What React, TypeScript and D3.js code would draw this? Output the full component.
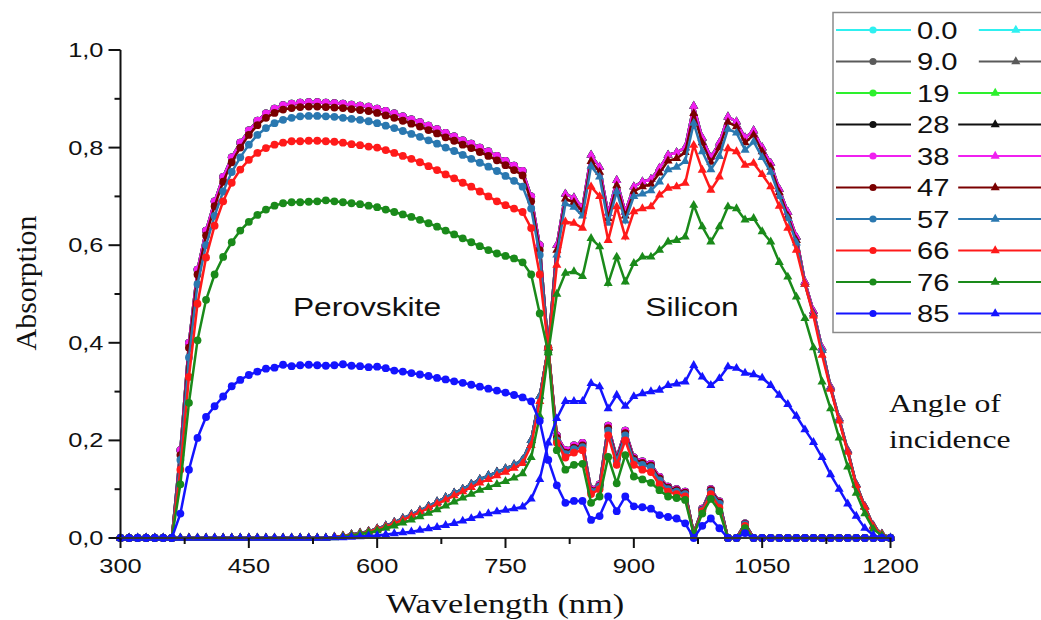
import * as d3 from "d3";

// wavelength grid, nm (10 nm steps)
const wavelengths = d3.range(300, 1201, 10);
const angleLabels = ["0.0", "9.0", "19", "28", "38", "47", "57", "66", "76", "85"];
const colors = ["#2ff0f0", "#5a5a5a", "#2df02d", "#111111", "#f020f0", "#7a0000", "#2a78b0", "#ff1a1a", "#1a8a1a", "#1414ff"];
const yTicks = [0, 0.2, 0.4, 0.6, 0.8, 1.0];
const yMinor = [0.1, 0.3, 0.5, 0.7, 0.9];
const xTicks = [300, 450, 600, 750, 900, 1050, 1200];
const xMinor = [375, 525, 675, 825, 975, 1125];

// perovskite absorption (circles), rows = 300-390, 400-490, ... 1100-1190, 1200
const perovTop = [
  0, 0, 0, 0, 0, 0, 0, 0.18, 0.40, 0.55,
  0.63, 0.69, 0.74, 0.78, 0.81, 0.835, 0.855, 0.87, 0.88, 0.887,
  0.89, 0.892, 0.893, 0.893, 0.892, 0.891, 0.89, 0.888, 0.886, 0.884,
  0.88, 0.875, 0.87, 0.864, 0.858, 0.852, 0.845, 0.838, 0.83, 0.823,
  0.815, 0.808, 0.80, 0.792, 0.783, 0.773, 0.763, 0.752, 0.70, 0.60,
  0.39, 0.21, 0.18, 0.19, 0.195, 0.10, 0.11, 0.23, 0.165, 0.22,
  0.165, 0.157, 0.152, 0.125, 0.105, 0.10, 0.095, 0.01, 0.06, 0.10,
  0.075, 0, 0, 0.03, 0, 0, 0, 0, 0, 0,
  0, 0, 0, 0, 0, 0, 0, 0, 0, 0,
  0,
];
const perov47 = [
  0, 0, 0, 0, 0, 0, 0, 0.17, 0.39, 0.54,
  0.62, 0.68, 0.73, 0.77, 0.80, 0.826, 0.846, 0.861, 0.871, 0.878,
  0.881, 0.883, 0.884, 0.884, 0.883, 0.882, 0.881, 0.879, 0.877, 0.875,
  0.871, 0.866, 0.861, 0.855, 0.849, 0.843, 0.836, 0.829, 0.821, 0.814,
  0.806, 0.799, 0.791, 0.783, 0.774, 0.764, 0.754, 0.743, 0.69, 0.59,
  0.39, 0.205, 0.175, 0.185, 0.19, 0.097, 0.107, 0.225, 0.162, 0.215,
  0.162, 0.154, 0.149, 0.122, 0.103, 0.098, 0.093, 0.01, 0.058, 0.098,
  0.073, 0, 0, 0.029, 0, 0, 0, 0, 0, 0,
  0, 0, 0, 0, 0, 0, 0, 0, 0, 0,
  0,
];
const perov57 = [
  0, 0, 0, 0, 0, 0, 0, 0.16, 0.37, 0.52,
  0.60, 0.66, 0.71, 0.75, 0.78, 0.806, 0.826, 0.84, 0.85, 0.857,
  0.861, 0.864, 0.865, 0.865, 0.864, 0.863, 0.861, 0.859, 0.857, 0.854,
  0.85, 0.845, 0.84, 0.834, 0.828, 0.822, 0.815, 0.808, 0.80, 0.793,
  0.785, 0.777, 0.769, 0.761, 0.752, 0.742, 0.732, 0.72, 0.675, 0.58,
  0.39, 0.20, 0.172, 0.182, 0.186, 0.095, 0.105, 0.22, 0.158, 0.21,
  0.158, 0.15, 0.145, 0.118, 0.10, 0.095, 0.09, 0.009, 0.057, 0.095,
  0.07, 0, 0, 0.028, 0, 0, 0, 0, 0, 0,
  0, 0, 0, 0, 0, 0, 0, 0, 0, 0,
  0,
];
const perov66 = [
  0, 0, 0, 0, 0, 0, 0, 0.14, 0.33, 0.48,
  0.575, 0.64, 0.69, 0.728, 0.755, 0.775, 0.789, 0.799, 0.806, 0.81,
  0.813, 0.813, 0.814, 0.814, 0.813, 0.812, 0.81, 0.807, 0.805, 0.802,
  0.80, 0.795, 0.789, 0.783, 0.777, 0.77, 0.762, 0.754, 0.745, 0.737,
  0.728, 0.72, 0.71, 0.70, 0.69, 0.682, 0.675, 0.668, 0.635, 0.54,
  0.39, 0.195, 0.165, 0.175, 0.18, 0.09, 0.10, 0.21, 0.15, 0.20,
  0.15, 0.14, 0.135, 0.11, 0.095, 0.09, 0.085, 0.008, 0.055, 0.09,
  0.062, 0, 0, 0.025, 0, 0, 0, 0, 0, 0,
  0, 0, 0, 0, 0, 0, 0, 0, 0, 0,
  0,
];
const perov76 = [
  0, 0, 0, 0, 0, 0, 0, 0.11, 0.277, 0.405,
  0.488, 0.54, 0.576, 0.606, 0.63, 0.648, 0.662, 0.673, 0.681, 0.686,
  0.688, 0.688, 0.689, 0.69, 0.692, 0.69, 0.688, 0.686, 0.684, 0.681,
  0.678, 0.673, 0.668, 0.663, 0.658, 0.652, 0.645, 0.638, 0.63, 0.622,
  0.614, 0.606, 0.598, 0.59, 0.583, 0.578, 0.573, 0.565, 0.54, 0.46,
  0.38, 0.18, 0.14, 0.15, 0.152, 0.072, 0.085, 0.166, 0.112, 0.17,
  0.126, 0.12, 0.113, 0.098, 0.085, 0.082, 0.078, 0.007, 0.05, 0.08,
  0.055, 0, 0, 0.02, 0, 0, 0, 0, 0, 0,
  0, 0, 0, 0, 0, 0, 0, 0, 0, 0,
  0,
];
const perov85 = [
  0, 0, 0, 0, 0, 0, 0, 0.05, 0.14, 0.205,
  0.248, 0.27, 0.29, 0.311, 0.324, 0.334, 0.341, 0.347, 0.349, 0.355,
  0.352, 0.354, 0.355, 0.354, 0.353, 0.354, 0.356, 0.353, 0.352, 0.35,
  0.351, 0.348, 0.343, 0.341, 0.338, 0.335, 0.332, 0.328, 0.325, 0.321,
  0.318, 0.314, 0.31, 0.306, 0.302, 0.298, 0.293, 0.288, 0.28, 0.24,
  0.16, 0.108, 0.072, 0.076, 0.076, 0.037, 0.045, 0.085, 0.055, 0.085,
  0.065, 0.063, 0.06, 0.047, 0.043, 0.04, 0.03, 0, 0.025, 0.04,
  0.02, 0, 0, 0.01, 0, 0, 0, 0, 0, 0,
  0, 0, 0, 0, 0, 0, 0, 0, 0, 0,
  0,
];

// silicon absorption (triangles)
const siliconTop = [
  0, 0, 0, 0, 0, 0, 0, 0, 0, 0,
  0, 0, 0, 0, 0, 0, 0, 0, 0, 0,
  0, 0, 0, 0, 0, 0.002, 0.004, 0.007, 0.01, 0.014,
  0.019, 0.025, 0.032, 0.04, 0.048, 0.056, 0.065, 0.074, 0.083, 0.092,
  0.10, 0.11, 0.12, 0.128, 0.135, 0.142, 0.15, 0.16, 0.20, 0.29,
  0.39, 0.60, 0.705, 0.697, 0.678, 0.785, 0.76, 0.665, 0.733, 0.668,
  0.72, 0.73, 0.735, 0.758, 0.785, 0.79, 0.80, 0.885, 0.82, 0.78,
  0.81, 0.863, 0.853, 0.82, 0.835, 0.80, 0.768, 0.715, 0.668, 0.617,
  0.525, 0.465, 0.39, 0.31, 0.245, 0.18, 0.11, 0.065, 0.025, 0.008,
  0,
];
const silicon47 = [
  0, 0, 0, 0, 0, 0, 0, 0, 0, 0,
  0, 0, 0, 0, 0, 0, 0, 0, 0, 0,
  0, 0, 0, 0, 0, 0.002, 0.004, 0.007, 0.01, 0.014,
  0.019, 0.025, 0.032, 0.04, 0.048, 0.056, 0.065, 0.074, 0.083, 0.092,
  0.10, 0.11, 0.12, 0.128, 0.135, 0.142, 0.15, 0.16, 0.20, 0.29,
  0.39, 0.59, 0.695, 0.688, 0.67, 0.772, 0.75, 0.655, 0.722, 0.66,
  0.71, 0.72, 0.725, 0.748, 0.773, 0.778, 0.79, 0.87, 0.81, 0.77,
  0.80, 0.852, 0.843, 0.81, 0.826, 0.792, 0.76, 0.708, 0.66, 0.61,
  0.52, 0.46, 0.385, 0.307, 0.242, 0.178, 0.109, 0.064, 0.024, 0.008,
  0,
];
const silicon57 = [
  0, 0, 0, 0, 0, 0, 0, 0, 0, 0,
  0, 0, 0, 0, 0, 0, 0, 0, 0, 0,
  0, 0, 0, 0, 0, 0.002, 0.004, 0.007, 0.01, 0.014,
  0.019, 0.025, 0.032, 0.04, 0.048, 0.056, 0.065, 0.074, 0.083, 0.092,
  0.10, 0.11, 0.12, 0.128, 0.135, 0.142, 0.15, 0.16, 0.20, 0.29,
  0.39, 0.58, 0.685, 0.678, 0.66, 0.762, 0.74, 0.645, 0.71, 0.65,
  0.70, 0.705, 0.712, 0.73, 0.755, 0.76, 0.772, 0.85, 0.792, 0.755,
  0.782, 0.838, 0.83, 0.795, 0.812, 0.78, 0.75, 0.70, 0.655, 0.605,
  0.52, 0.458, 0.385, 0.307, 0.243, 0.178, 0.11, 0.064, 0.024, 0.008,
  0,
];
const silicon66 = [
  0, 0, 0, 0, 0, 0, 0, 0, 0, 0,
  0, 0, 0, 0, 0, 0, 0, 0, 0, 0,
  0, 0, 0, 0, 0, 0.002, 0.004, 0.006, 0.009, 0.013,
  0.018, 0.023, 0.03, 0.037, 0.045, 0.053, 0.061, 0.07, 0.078, 0.087,
  0.095, 0.104, 0.113, 0.12, 0.128, 0.135, 0.143, 0.153, 0.19, 0.28,
  0.39, 0.559, 0.648, 0.645, 0.635, 0.72, 0.70, 0.61, 0.679, 0.617,
  0.669, 0.675, 0.679, 0.703, 0.717, 0.72, 0.727, 0.805, 0.754, 0.713,
  0.74, 0.798, 0.792, 0.764, 0.768, 0.745, 0.72, 0.68, 0.635, 0.59,
  0.52, 0.455, 0.375, 0.305, 0.24, 0.176, 0.108, 0.063, 0.023, 0.007,
  0,
];
const silicon76 = [
  0, 0, 0, 0, 0, 0, 0, 0, 0, 0,
  0, 0, 0, 0, 0, 0, 0, 0, 0, 0,
  0, 0, 0, 0, 0, 0.001, 0.003, 0.005, 0.008, 0.011,
  0.015, 0.02, 0.025, 0.031, 0.037, 0.044, 0.051, 0.058, 0.066, 0.074,
  0.082, 0.09, 0.098, 0.104, 0.11, 0.116, 0.123, 0.132, 0.165, 0.25,
  0.38, 0.50, 0.543, 0.546, 0.536, 0.614, 0.597, 0.522, 0.576, 0.525,
  0.563, 0.576, 0.576, 0.59, 0.607, 0.61, 0.617, 0.682, 0.638, 0.607,
  0.638, 0.679, 0.675, 0.652, 0.655, 0.628, 0.607, 0.565, 0.535, 0.494,
  0.45, 0.39, 0.32, 0.265, 0.205, 0.146, 0.092, 0.05, 0.018, 0.005,
  0,
];
const silicon85 = [
  0, 0, 0, 0, 0, 0, 0, 0, 0, 0,
  0, 0, 0, 0, 0, 0, 0, 0, 0, 0,
  0, 0, 0, 0, 0, 0.001, 0.001, 0.002, 0.003, 0.004,
  0.005, 0.007, 0.009, 0.011, 0.013, 0.016, 0.019, 0.022, 0.026, 0.03,
  0.035, 0.04, 0.046, 0.05, 0.054, 0.057, 0.06, 0.064, 0.08, 0.12,
  0.195, 0.245, 0.28, 0.28, 0.28, 0.317, 0.31, 0.265, 0.293, 0.27,
  0.29, 0.296, 0.30, 0.303, 0.313, 0.316, 0.32, 0.354, 0.33, 0.313,
  0.327, 0.351, 0.348, 0.338, 0.335, 0.328, 0.313, 0.293, 0.274, 0.25,
  0.222, 0.196, 0.165, 0.13, 0.10, 0.07, 0.045, 0.02, 0.006, 0,
  0,
];

// angles 0..38 overlap within reading accuracy
const perovSeries = [perovTop, perovTop, perovTop, perovTop, perovTop, perov47, perov57, perov66, perov76, perov85];
const siliconSeries = [siliconTop, siliconTop, siliconTop, siliconTop, siliconTop, silicon47, silicon57, silicon66, silicon76, silicon85];

const SX = 1.27; // the figure is stretched horizontally

function SText({ x, y, size, anchor = "start", family = "'Liberation Sans', Arial, sans-serif", children }: any) {
  return (
    <text
      transform={`translate(${x},${y}) scale(${SX},1)`}
      fontSize={size}
      fontFamily={family}
      textAnchor={anchor}
      fill="#111"
    >
      {children}
    </text>
  );
}

export default function App() {
  const width = 1041;
  const height = 620;
  const marginLeft = 120.5;
  const marginRight = 150.5;
  const marginTop = 50;
  const marginBottom = 82;

  const x = d3.scaleLinear().domain([300, 1200]).range([marginLeft, width - marginRight]);
  const y = d3.scaleLinear().domain([0, 1]).range([height - marginBottom, marginTop]);

  const line = d3
    .line<number>()
    .x((d, i) => x(wavelengths[i]))
    .y((d) => y(d));

  const tri = d3.symbol(d3.symbolTriangle, 36)();
  const fmt = (v: number) => d3.format(".1f")(v).replace(".", ",");
  const serif = "'Liberation Serif', 'Times New Roman', serif";

  const legendTop = 12.5;
  const rowH = 31.5;

  return (
    <svg width={width} height={height} style={{ position: "absolute", left: 0, top: 0, background: "#fff" }}>
      {/* curves: perovskite (circles) and silicon (triangles), one angle at a time */}
      {angleLabels.map((a, k) => (
        <g key={a}>
          <path d={line(perovSeries[k]) ?? ""} fill="none" stroke={colors[k]} strokeWidth={2.5} />
          {perovSeries[k].map((v, i) => (
            <circle key={i} cx={x(wavelengths[i])} cy={y(v)} r={3.9} fill={colors[k]} />
          ))}
          <path d={line(siliconSeries[k]) ?? ""} fill="none" stroke={colors[k]} strokeWidth={2.5} />
          {siliconSeries[k].map((v, i) => (
            <path key={i} d={tri ?? ""} transform={`translate(${x(wavelengths[i])},${y(v)})`} fill={colors[k]} />
          ))}
        </g>
      ))}

      {/* Y axis */}
      <line x1={x(300)} x2={x(300)} y1={y(1)} y2={y(0) + 2} stroke="#111" strokeWidth={2} />
      {yTicks.map((t) => (
        <g key={t}>
          <line x1={x(300) - 12} x2={x(300)} y1={y(t)} y2={y(t)} stroke="#111" strokeWidth={2} />
          <SText x={x(300) - 17} y={y(t) + 7} size={20} anchor="end">
            {fmt(t)}
          </SText>
        </g>
      ))}
      {yMinor.map((t) => (
        <line key={t} x1={x(300) - 6} x2={x(300)} y1={y(t)} y2={y(t)} stroke="#111" strokeWidth={2} />
      ))}

      {/* X axis */}
      <line x1={x(300) - 1} x2={x(1200) + 1} y1={y(0)} y2={y(0)} stroke="#333" strokeWidth={2} />
      {xTicks.map((t) => (
        <g key={t}>
          <line x1={x(t)} x2={x(t)} y1={y(0)} y2={y(0) + 10} stroke="#111" strokeWidth={2} />
          <SText x={x(t)} y={y(0) + 35} size={20} anchor="middle">
            {t}
          </SText>
        </g>
      ))}
      {xMinor.map((t) => (
        <line key={t} x1={x(t)} x2={x(t)} y1={y(0)} y2={y(0) + 6} stroke="#111" strokeWidth={2} />
      ))}

      {/* axis titles and region labels */}
      <text
        transform={`translate(36,${283}) rotate(-90)`}
        textAnchor="middle"
        fontFamily={serif}
        fontSize={30}
        fill="#111"
      >
        Absorption
      </text>
      <SText x={505} y={613} size={27} anchor="middle" family={serif}>
        Wavelength (nm)
      </SText>
      <SText x={367} y={316} size={25} anchor="middle">
        Perovskite
      </SText>
      <SText x={692} y={316} size={25} anchor="middle">
        Silicon
      </SText>
      <SText x={889} y={412} size={25} family={serif}>
        Angle of
      </SText>
      <SText x={889} y={448} size={25} family={serif}>
        incidence
      </SText>

      {/* legend */}
      <rect x={833} y={legendTop} width={230} height={320} fill="#fff" stroke="#8a8a8a" strokeWidth={1.5} />
      {angleLabels.map((a, k) => {
        const cy = legendTop + 17.5 + k * rowH;
        const textEnd = 917 + a.length * 0.5 * 23 * SX + (a.includes(".") ? 6 : 0);
        const segStart = textEnd + 12;
        return (
          <g key={a}>
            <line x1={836} x2={911} y1={cy} y2={cy} stroke={colors[k]} strokeWidth={2.2} />
            <circle cx={873} cy={cy} r={3.6} fill={colors[k]} />
            <SText x={917} y={cy + 8.5} size={23}>
              {a}
            </SText>
            <line x1={segStart} x2={1041} y1={cy} y2={cy} stroke={colors[k]} strokeWidth={2.2} />
            <path d={tri ?? ""} transform={`translate(${segStart + 37},${cy})`} fill={colors[k]} />
          </g>
        );
      })}
    </svg>
  );
}
